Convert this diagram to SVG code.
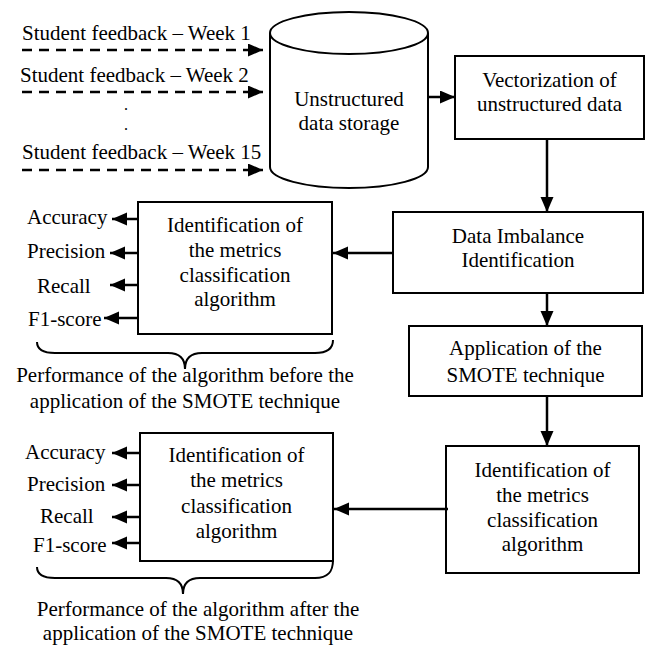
<svg xmlns="http://www.w3.org/2000/svg" width="648" height="648" viewBox="0 0 648 648">
<defs>
<marker id="ah" markerUnits="userSpaceOnUse" markerWidth="16" markerHeight="14" refX="15" refY="6.5" orient="auto">
<path d="M0,0 L15,6.5 L0,13 z" fill="#000"/>
</marker>
<style>
text{font-family:'Liberation Serif','DejaVu Serif',serif;font-size:21px;fill:#000}
.c{text-anchor:middle}
.dot{font-size:16px}
.box{fill:#fff;stroke:#000;stroke-width:2}
.ln{stroke:#000;stroke-width:2.5;fill:none}
.dash{stroke:#000;stroke-width:2.5;fill:none;stroke-dasharray:10 7}
.brace{stroke:#000;stroke-width:2;fill:none}
</style>
</defs>
<rect width="648" height="648" fill="#fff"/>
<g font-family="Liberation Serif, DejaVu Serif, serif" font-size="21">

<g id="inputs">
<text x="22" y="40">Student feedback – Week 1</text>
<text x="20" y="82">Student feedback – Week 2</text>
<text x="126" y="110" class="c dot">.</text>
<text x="126" y="130" class="c dot">.</text>
<text x="22" y="159">Student feedback – Week 15</text>
</g>

<g id="storage">
<path class="box" d="M270,33 L270,167 A79,21 0 0 0 428,167 L428,33"/>
<ellipse class="box" cx="349" cy="33" rx="79" ry="21"/>
<text x="349" y="106" class="c">Unstructured</text>
<text x="349" y="130" class="c">data storage</text>
</g>

<g id="vectorization">
<rect class="box" x="455" y="56" width="189" height="83"/>
<text x="549.5" y="87" class="c">Vectorization of</text>
<text x="549.5" y="111" class="c">unstructured data</text>
</g>

<g id="imbalance">
<rect class="box" x="393" y="212" width="250" height="81"/>
<text x="518" y="243" class="c">Data Imbalance</text>
<text x="518" y="267" class="c">Identification</text>
</g>

<g id="metrics-before">
<rect class="box" x="138" y="202" width="194" height="132"/>
<text x="235" y="232" class="c">Identification of</text>
<text x="235" y="257" class="c">the metrics</text>
<text x="235" y="282" class="c">classification</text>
<text x="235" y="306" class="c">algorithm</text>
</g>

<g id="labels-before">
<text x="27" y="224">Accuracy</text>
<text x="27" y="258">Precision</text>
<text x="37" y="293">Recall</text>
<text x="28" y="326">F1-score</text>
<text x="185" y="382" class="c">Performance of the algorithm before the</text>
<text x="185" y="408" class="c">application of the SMOTE technique</text>
</g>

<g id="smote">
<rect class="box" x="409" y="326" width="233" height="70"/>
<text x="525.5" y="355" class="c">Application of the</text>
<text x="525.5" y="382" class="c">SMOTE technique</text>
</g>

<g id="metrics-right">
<rect class="box" x="446" y="446" width="193" height="127"/>
<text x="542.5" y="477" class="c">Identification of</text>
<text x="542.5" y="502" class="c">the metrics</text>
<text x="542.5" y="527" class="c">classification</text>
<text x="542.5" y="551" class="c">algorithm</text>
</g>

<g id="metrics-after">
<rect class="box" x="140" y="433" width="193" height="128"/>
<text x="236.5" y="462" class="c">Identification of</text>
<text x="236.5" y="487" class="c">the metrics</text>
<text x="236.5" y="513" class="c">classification</text>
<text x="236.5" y="538" class="c">algorithm</text>
</g>

<g id="labels-after">
<text x="25" y="459">Accuracy</text>
<text x="27" y="491">Precision</text>
<text x="40" y="523">Recall</text>
<text x="33" y="552">F1-score</text>
<text x="198" y="616" class="c">Performance of the algorithm after the</text>
<text x="198" y="640" class="c">application of the SMOTE technique</text>
</g>

</g>
<g id="connectors">
<line class="dash" x1="22" y1="50" x2="263" y2="50" marker-end="url(#ah)"/>
<line class="dash" x1="22" y1="92" x2="263" y2="92" marker-end="url(#ah)"/>
<line class="dash" x1="22" y1="170" x2="263" y2="170" marker-end="url(#ah)"/>
<line class="ln" x1="428" y1="97" x2="455" y2="97" marker-end="url(#ah)"/>
<line class="ln" x1="547" y1="139" x2="547" y2="212" marker-end="url(#ah)"/>
<line class="ln" x1="393" y1="253" x2="333" y2="253" marker-end="url(#ah)"/>
<line class="ln" x1="547" y1="293" x2="547" y2="326" marker-end="url(#ah)"/>
<line class="ln" x1="547" y1="396" x2="547" y2="446" marker-end="url(#ah)"/>
<line class="ln" x1="448" y1="509" x2="334" y2="509" marker-end="url(#ah)"/>
<line class="ln" x1="138" y1="219" x2="112" y2="219" marker-end="url(#ah)"/>
<line class="ln" x1="138" y1="253" x2="110" y2="253" marker-end="url(#ah)"/>
<line class="ln" x1="138" y1="285" x2="110" y2="285" marker-end="url(#ah)"/>
<line class="ln" x1="138" y1="318" x2="104" y2="318" marker-end="url(#ah)"/>
<line class="ln" x1="140" y1="453" x2="112" y2="453" marker-end="url(#ah)"/>
<line class="ln" x1="140" y1="485" x2="112" y2="485" marker-end="url(#ah)"/>
<line class="ln" x1="140" y1="517" x2="112" y2="517" marker-end="url(#ah)"/>
<line class="ln" x1="140" y1="543" x2="112" y2="543" marker-end="url(#ah)"/>
<path class="brace" d="M37,342 C37,349 42,353 55,353 L168,353 C179,353 185,358 185,369 C185,358 191,353 202,353 L315,353 C328,353 333,348 333,340"/>
<path class="brace" d="M37,567 C37,574 42,578 55,578 L166,578 C177,578 183,583 183,594 C183,583 189,578 200,578 L315,578 C328,578 333,572 333,560"/>
</g>
</svg>
